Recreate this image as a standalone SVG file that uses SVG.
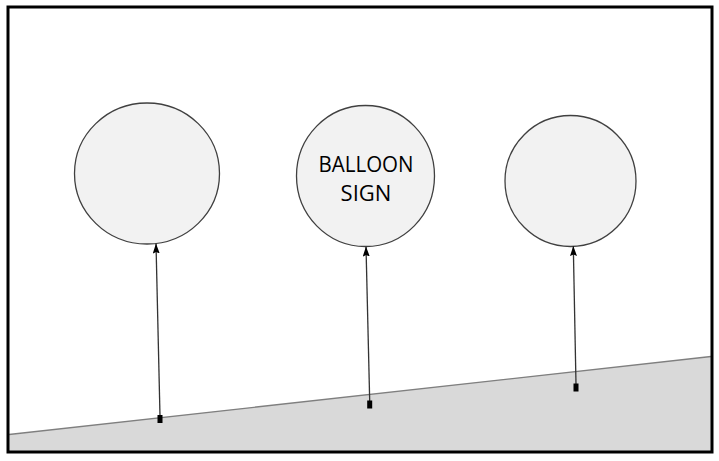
<svg xmlns="http://www.w3.org/2000/svg" width="719" height="461" viewBox="0 0 719 461">
<style>
.balloon{fill:#f2f2f2;stroke:#404040;stroke-width:1.3}
.string{stroke:#333;stroke-width:1.3;fill:none}
.anchor{fill:#000}
.label{font-family:"Open Sans","Liberation Sans",sans-serif;font-size:22px;fill:#000;text-anchor:middle}
</style>
<defs>
<marker id="ah" viewBox="0 0 10 7" refX="10" refY="3.5" markerWidth="10" markerHeight="7" markerUnits="userSpaceOnUse" orient="auto">
<path d="M10,3.5 L0,7 L1.5,3.5 L0,0 Z" fill="#000"/>
</marker>
</defs>
<rect x="0" y="0" width="719" height="461" fill="#fff"/>
<g id="ground">
<polygon points="9,434.5 711,356.5 711,451 9,451" fill="#d9d9d9"/>
<line x1="9" y1="434.5" x2="711" y2="356.5" stroke="#7f7f7f" stroke-width="1.3"/>
</g>
<g id="balloon1"><ellipse class="balloon" cx="147" cy="173.5" rx="72.5" ry="70.5"/></g>
<g id="balloon2"><ellipse class="balloon" cx="365.5" cy="176" rx="69" ry="70.5"/>
<text class="label" x="366" y="172" textLength="95" lengthAdjust="spacingAndGlyphs">BALLOON</text>
<text class="label" x="366" y="201">SIGN</text></g>
<g id="balloon3"><ellipse class="balloon" cx="570.5" cy="181" rx="65.5" ry="65.5"/></g>
<g id="connectors">
<line class="string" x1="160" y1="416" x2="156" y2="243.5" marker-end="url(#ah)"/>
<line class="string" x1="369.7" y1="401" x2="366" y2="246.5" marker-end="url(#ah)"/>
<line class="string" x1="576" y1="384" x2="573.3" y2="246" marker-end="url(#ah)"/>
<rect class="anchor" x="157.5" y="415" width="5" height="8"/>
<rect class="anchor" x="367.2" y="400.5" width="5" height="8"/>
<rect class="anchor" x="573.5" y="383.5" width="5" height="8"/>
</g>
<rect x="8" y="7" width="704" height="445" fill="none" stroke="#000" stroke-width="3"/>
</svg>
